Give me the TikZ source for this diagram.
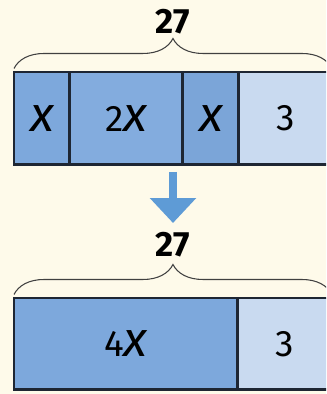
\documentclass[tikz,border=0pt]{standalone}
\usepackage{fontspec}
\setmainfont{Fira Sans}
\usetikzlibrary{positioning,arrows.meta,decorations.pathreplacing}

\definecolor{paper}{HTML}{FEFAEA}
\definecolor{barblue}{HTML}{7DA8DC}
\definecolor{barlight}{HTML}{C9DAF0}
\definecolor{arrowblue}{HTML}{5E9BD6}
\definecolor{edge}{HTML}{1E2633}

\tikzset{
  cell/.style={draw=edge, line width=1.7pt, minimum height=1.86cm, inner sep=0pt, outer sep=0pt, fill=barblue, font=\fontsize{21}{21}\selectfont},
  rest/.style={cell, fill=barlight},
  total/.style={font=\fontsize{20}{20}\selectfont\bfseries},
  bracket/.style={decorate, decoration={brace, amplitude=0.6cm}, line width=0.6pt, draw=black!75},
}
\newcommand{\ex}{{\fontsize{28}{28}\selectfont\itshape x}}

\begin{document}
\begin{tikzpicture}[x=0.02cm, y=-0.02cm]

% 背景和裁剪
\fill[paper] (0,0) rectangle (326,394);
\useasboundingbox (0,0) rectangle (326,394);
\clip (0,0) rectangle (326,394);

% 上面的条形: x, 2x, x, 3
\node[cell, minimum width=1.12cm, anchor=north west] (a1) at (14,72) {\ex};
\node[cell, minimum width=2.26cm, right=0pt of a1, fill=barblue!95!white] (a2) {2\ex};
\node[cell, minimum width=1.12cm, right=0pt of a2, fill=barblue!98!black] (a3) {\ex};
\node[rest, minimum width=1.86cm, right=0pt of a3] (a4) {3};

% 上面的括号和总数
\draw[bracket] ([yshift=2pt]a1.north west) -- ([yshift=2pt]a4.north east);
\node[total] (t1) at (173,22) {27};

% 下面的条形: 4x, 3
\node[cell, minimum width=4.48cm, minimum height=1.84cm, anchor=north west] (b1) at (14,298) {4\ex};
\node[rest, minimum width=1.88cm, minimum height=1.84cm, right=0pt of b1] (b2) {3};

% 下面的括号和总数
\draw[bracket] ([yshift=2pt]b1.north west) -- ([yshift=2pt]b2.north east);
\node[total] (t2) at (173,245) {27};

% 向下的箭头
\coordinate (s) at (173,172);
\coordinate (e) at (173,223);
\draw[arrowblue, line width=0.16cm, -{Triangle[width=0.9cm, length=0.5cm]}] (s) -- (e);

\end{tikzpicture}
\end{document}
